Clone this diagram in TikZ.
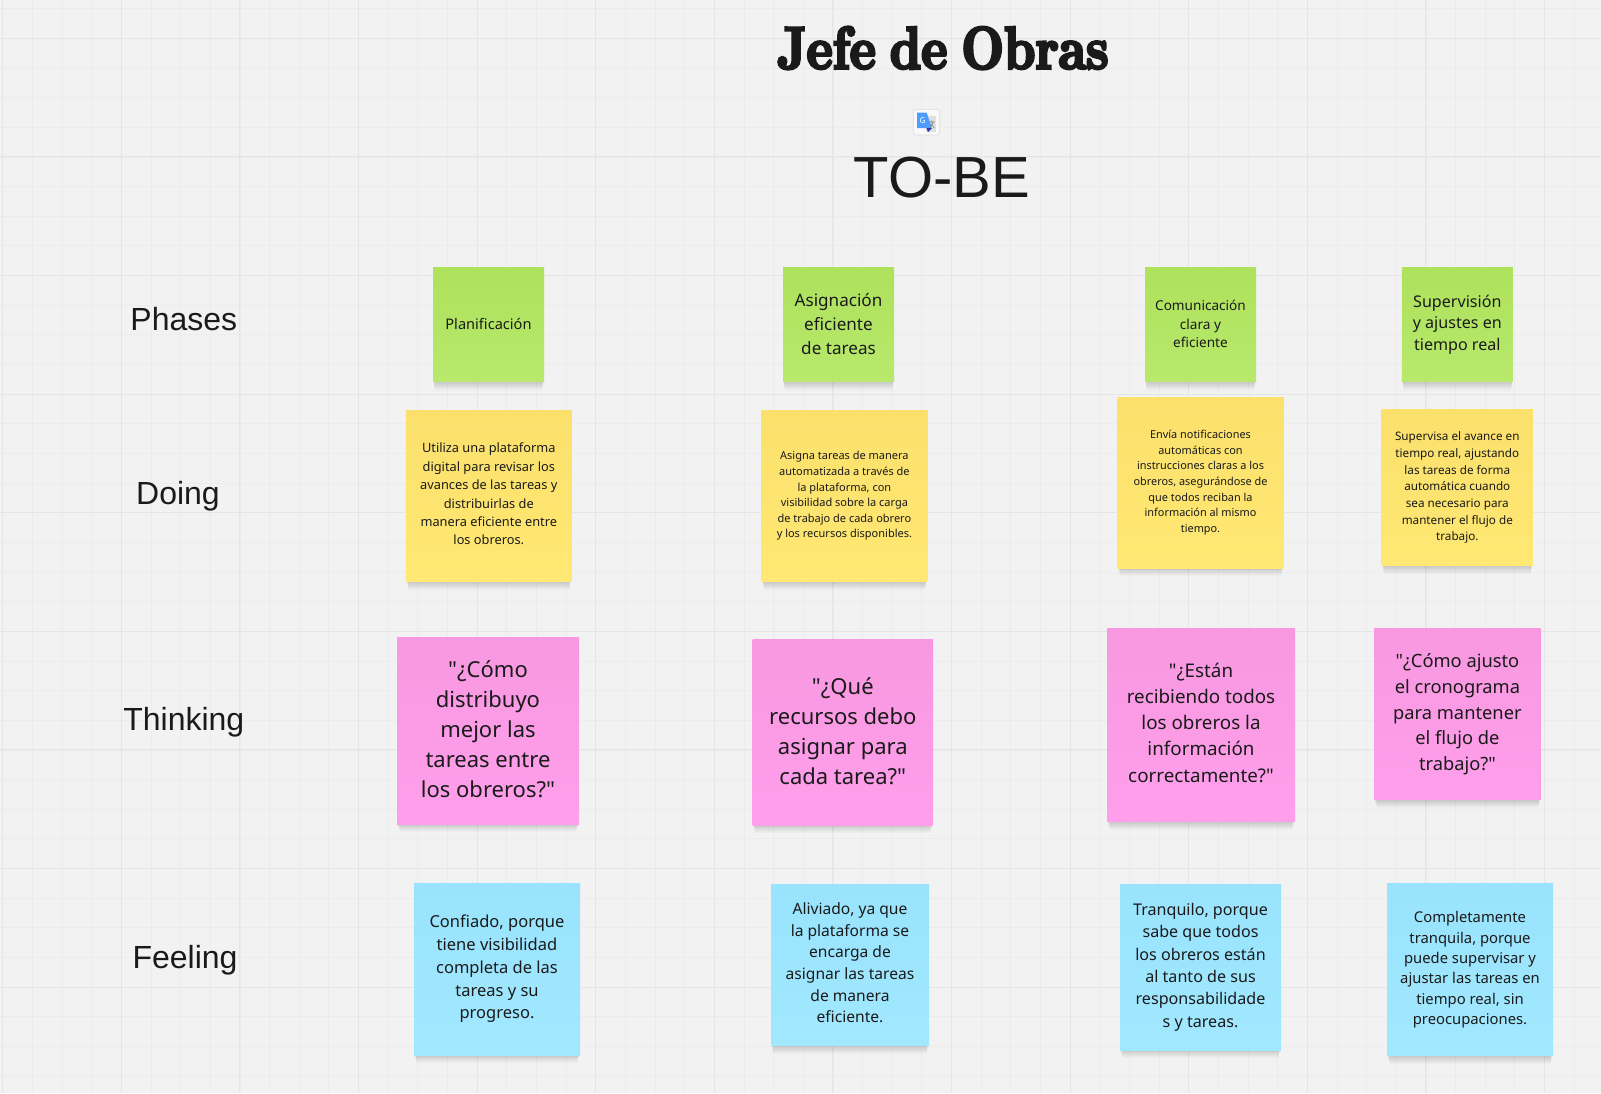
\documentclass[tikz,border=0pt]{standalone}
\usepackage{fontspec}
\usetikzlibrary{shadows}
\newfontfamily\notofont{Noto Sans}
\newfontfamily\labelfont{Liberation Sans}
\newfontfamily\titlefont[Extension=.otf,FakeBold=4.5,FakeStretch=.82,WordSpace=.75]{lmroman10-bold}
\newcommand{\notesize}[2]{\notofont\fontsize{#1}{#2}\selectfont}
\newcommand{\noteup}[1]{\\[\dimexpr#1-\baselineskip\relax]}
\definecolor{board}{HTML}{F2F2F2}
\definecolor{gridminor}{HTML}{ECECEC}
\definecolor{gridmajor}{HTML}{E5E5E5}
\definecolor{ink}{HTML}{1A1A1A}
\definecolor{greentop}{HTML}{AEE15C}
\definecolor{greenbot}{HTML}{B8E96C}
\definecolor{yellowtop}{HTML}{FBE06C}
\definecolor{yellowbot}{HTML}{FFE873}
\definecolor{pinktop}{HTML}{F898E0}
\definecolor{pinkbot}{HTML}{FF9FEC}
\definecolor{bluetop}{HTML}{99E3FD}
\definecolor{bluebot}{HTML}{A1E8FF}
\tikzset{
  softshadow/.style 2 args={general shadow={fill=black,opacity=.02,shadow xshift=0pt,shadow yshift=-#1pt,shadow scale=#2}},
  note/.style 2 args={rectangle,inner sep=0pt,align=center,text=ink,
    minimum width=#1pt,minimum height=#2pt,
    softshadow={2}{.995},softshadow={3}{.99},softshadow={4.5}{.985},softshadow={5.5}{.985},
    softshadow={7}{.98},softshadow={8}{.98},softshadow={9.5}{.975},softshadow={11}{.97}},
  greennote/.style={top color=greentop,bottom color=greenbot},
  yellownote/.style={top color=yellowtop,bottom color=yellowbot},
  pinknote/.style={top color=pinktop,bottom color=pinkbot},
  bluenote/.style={top color=bluetop,bottom color=bluebot},
  rowlabel/.style={text=ink,font=\labelfont\fontsize{32}{38}\selectfont}
}
\begin{document}
\begin{tikzpicture}[x=1pt,y=-1pt]
\useasboundingbox (0,0) rectangle (1601,1093);
\fill[board] (0,0) rectangle (1601,1093);
\foreach \i in {0,...,54} \draw[gridminor,line width=.8pt] ({2.7+29.65*\i},0) -- ({2.7+29.65*\i},1093);
\foreach \i in {-1,...,36} \draw[gridminor,line width=.8pt] (0,{38.3+29.65*\i}) -- (1601,{38.3+29.65*\i});
\foreach \i in {0,...,13} \draw[gridmajor,line width=1pt] ({2.7+118.6*\i},0) -- ({2.7+118.6*\i},1093);
\foreach \i in {0,...,9} \draw[gridmajor,line width=1pt] (0,{38.3+118.6*\i}) -- (1601,{38.3+118.6*\i});

\node[text=ink,font=\titlefont\fontsize{60}{70}\selectfont] (title) at (943,48) {Jefe de Obras};
\fill[white!50!board,draw=gridmajor,line width=1pt,rounded corners=3pt] (913.3,109.3) rectangle (939.5,135.2);
\fill[black!12] (926,116) rectangle (936,131.5);
\fill[blue!55!cyan!70!white] (917,112.7) -- (926.7,112.7) -- (931.8,128.2) -- (917,128.2) -- cycle;
\fill[blue!60!black!80!white] (926.5,128.2) -- (931.8,128.2) -- (928,132) -- cycle;
\draw[black!50,line width=.6pt] (929,122) -- (934.5,122) (931.5,120.5) -- (932,122) (933.5,122) -- (930,128) (930.5,123.5) -- (934.5,128);
\node[text=white,font=\notofont\bfseries\fontsize{8}{9}\selectfont] (icong) at (922.5,120.5) {G};
\node[text=ink,font=\labelfont\fontsize{58}{60}\selectfont] (tobe) at (942,178) {TO-BE};

\node[rowlabel] (phases) at (183.8,319) {Phases};
\node[rowlabel] (doing) at (178,496) {Doing};
\node[rowlabel] (thinking) at (183.8,722) {Thinking};
\node[rowlabel] (feeling) at (185,960) {Feeling};

\node[note={111}{114},greennote,font={\notesize{14.6}{20}}] (phasePlan) at (488.5,324.6) {Planificación\noteup{2pt}};
\node[note={111}{114},greennote,font={\notesize{17.1}{24}}] (phaseAsig) at (838.5,324.6) {Asignación\\eficiente\\de tareas\noteup{2pt}};
\node[note={111}{114},greennote,font={\notesize{13.6}{18.6}}] (phaseCom) at (1200.5,324.6) {Comunicación\\clara y\\eficiente\noteup{1pt}};
\node[note={111}{114},greennote,font={\notesize{16.1}{21.8}}] (phaseSup) at (1457.3,324.6) {Supervisión\\y ajustes en\\tiempo real};

\node[note={165.7}{171.4},yellownote,font={\notesize{12.8}{18.4}}] (doPlan) at (488.8,496) {Utiliza una plataforma\\digital para revisar los\\avances de las tareas y\\distribuirlas de\\manera eficiente entre\\los obreros.\noteup{4pt}};
\node[note={165.7}{171.4},yellownote,font={\notesize{11}{15.6}}] (doAsig) at (844.4,496) {Asigna tareas de manera\\automatizada a través de\\la plataforma, con\\visibilidad sobre la carga\\de trabajo de cada obrero\\y los recursos disponibles.};
\node[note={165.6}{170.7},yellownote,font={\notesize{10.9}{15.6}}] (doCom) at (1200.5,482.7) {Envía notificaciones\\automáticas con\\instrucciones claras a los\\obreros, asegurándose de\\que todos reciban la\\información al mismo\\tiempo.};
\node[note={151.3}{155.7},yellownote,font={\notesize{11.7}{16.7}}] (doSup) at (1457.3,487.8) {Supervisa el avance en\\tiempo real, ajustando\\las tareas de forma\\automática cuando\\sea necesario para\\mantener el flujo de\\trabajo.};

\node[note={182}{187},pinknote,font={\notesize{22}{30}}] (thPlan) at (488,730.5) {"¿Cómo\\distribuyo\\mejor las\\tareas entre\\los obreros?"\noteup{2pt}};
\node[note={180.5}{186},pinknote,font={\notesize{22}{30}}] (thAsig) at (842.8,732) {"¿Qué\\recursos debo\\asignar para\\cada tarea?"\noteup{2pt}};
\node[note={188}{193.7},pinknote,font={\notesize{18.8}{26.2}}] (thCom) at (1201,725) {"¿Están\\recibiendo todos\\los obreros la\\información\\correctamente?"\noteup{5pt}};
\node[note={166.7}{171.5},pinknote,font={\notesize{18.3}{25.8}}] (thSup) at (1457.4,714.2) {"¿Cómo ajusto\\el cronograma\\para mantener\\el flujo de\\trabajo?"};

\node[note={166}{172},bluenote,font={\notesize{16.5}{22.8}}] (feelPlan) at (497,969) {Confiado, porque\\tiene visibilidad\\completa de las\\tareas y su\\progreso.};
\node[note={158}{161.5},bluenote,font={\notesize{15.6}{21.6}}] (feelAsig) at (850,964.8) {Aliviado, ya que\\la plataforma se\\encarga de\\asignar las tareas\\de manera\\eficiente.\noteup{4pt}};
\node[note={161}{166},bluenote,font={\notesize{16.1}{22.4}}] (feelCom) at (1200.5,967) {Tranquilo, porque\\sabe que todos\\los obreros están\\al tanto de sus\\responsabilidade\\s y tareas.};
\node[note={166}{171.7},bluenote,font={\notesize{14.8}{20.3}}] (feelSup) at (1470,969.8) {Completamente\\tranquila, porque\\puede supervisar y\\ajustar las tareas en\\tiempo real, sin\\preocupaciones.};
\end{tikzpicture}
\end{document}
